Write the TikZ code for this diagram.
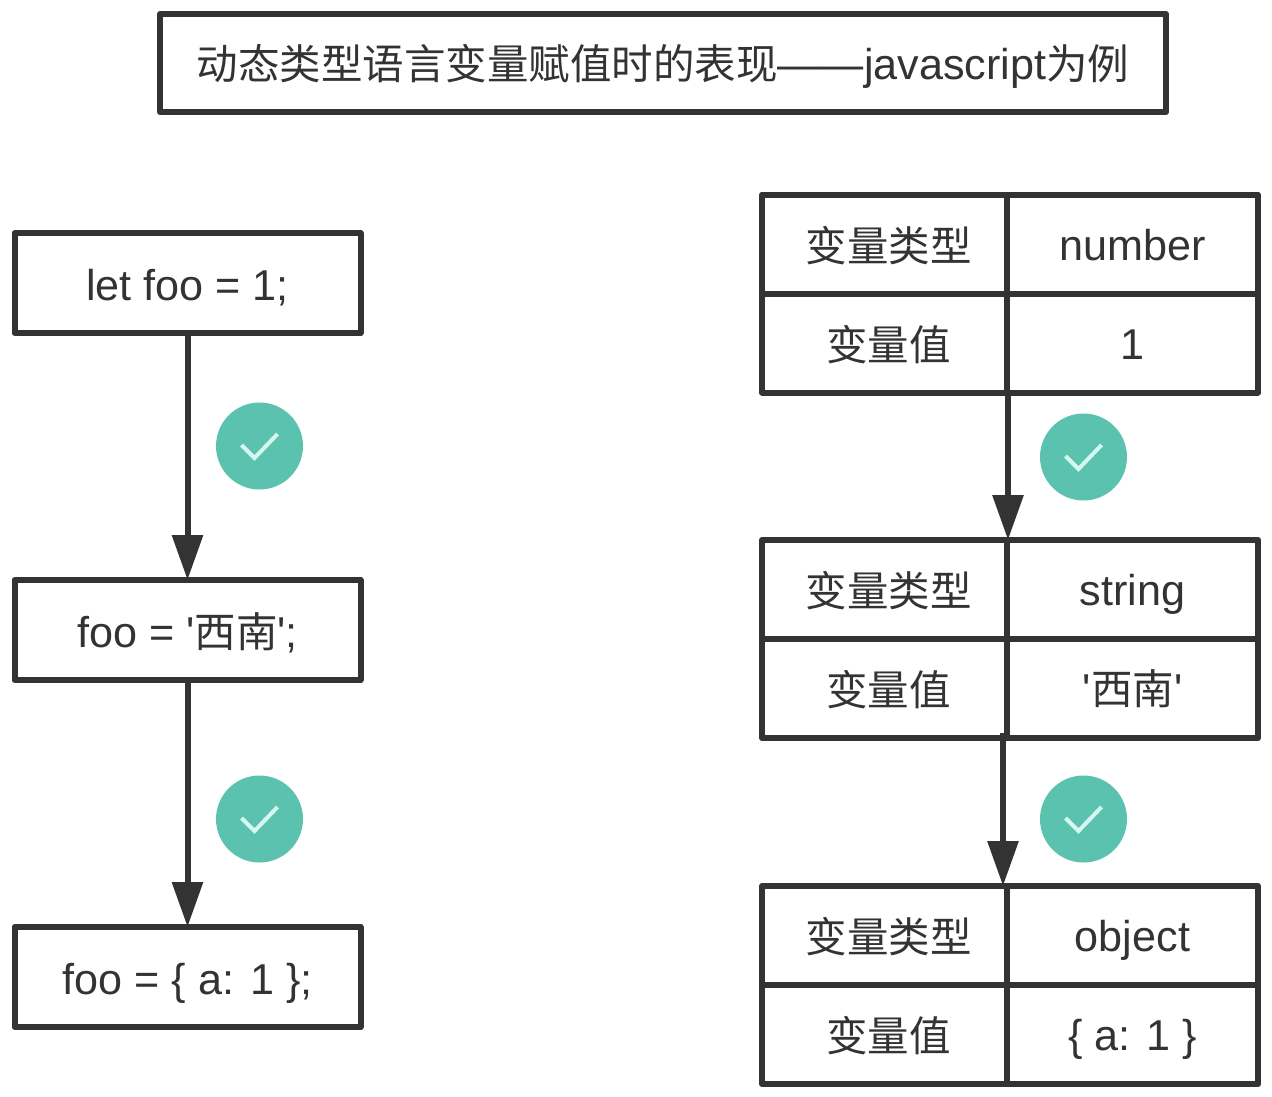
\documentclass[tikz,border=0pt]{standalone}
\usepackage{fontspec}
\setmainfont[Scale=1.04]{Liberation Sans}
\newfontfamily\cjk{Noto Sans CJK SC}
\usetikzlibrary{arrows.meta}
\definecolor{ink}{HTML}{333333}
\definecolor{okfill}{HTML}{5BC2AF}
\definecolor{oktick}{HTML}{D5F7EF}
\tikzset{
  base/.style={text height=#1*2pt,text depth=0pt},
  box/.style={draw=ink,line width=6pt,line join=round,outer sep=0pt,inner sep=0pt,
    text=ink,font=\fontsize{41.5}{45}\selectfont,anchor=north west,base=16},
  flowbox/.style={box,minimum width=346pt,minimum height=100pt,base=17.5},
  keycell/.style={box,minimum width=245pt,minimum height=99pt,base=17},
  valcell/.style={box,minimum width=251pt,minimum height=99pt,base=16},
  flow/.style={draw=ink,line width=6pt,-{Triangle[length=45pt,width=30pt]}},
  okcircle/.style={circle,fill=okfill,minimum size=87pt,inner sep=0pt},
  tick/.style={draw=oktick,line width=4pt}
}
\newcommand{\oksign}[2]{%
  \node[okcircle] (#1) at #2 {};
  \draw[tick] ([shift={(-18,-1)}]#1.center) -- ([shift={(-5,12)}]#1.center) -- ([shift={(18,-12)}]#1.center);
}
\newcommand{\xinan}{\textquotesingle{\cjk 西南}\textquotesingle}
\begin{document}
\begin{tikzpicture}[x=1pt,y=-1pt]
  \useasboundingbox (0,0) rectangle (1272,1096);
  % title
  \node[box,minimum width=1006pt,minimum height=98pt] (title) at (160,14)
    {{\cjk 动态类型语言变量赋值时的表现}——javascript{\cjk 为例}};
  % left column
  \node[flowbox] (let) at (14.5,233) {let foo = 1;};
  \node[flowbox] (str) at (14.5,580) {foo = \xinan;};
  \node[flowbox] (obj) at (14.5,927) {foo = \{ a: 1 \};};
  \draw[flow] (let) -- (str);
  \draw[flow] (str) -- (obj);
  % right column
  \foreach \name/\ypos/\kind/\val in {a/194.5/number/1,b/540/string/\xinan,c/886/object/\{ a: 1 \}} {
    \node[keycell] (\name type) at (762,\ypos) {\hspace{8pt}\cjk 变量类型};
    \node[valcell] (\name kind) at (1007,\ypos) {\kind};
    \node[keycell] (\name key) at (762,\ypos+99) {\hspace{8pt}\cjk 变量值};
    \node[valcell] (\name val) at (1007,\ypos+99) {\val};
  }
  \coordinate (aout) at (1008,394);
  \coordinate (bin) at (1008,540);
  \coordinate (bout) at (1003,733);
  \coordinate (cin) at (1003,886);
  \draw[flow] (aout) -- (bin);
  \draw[flow] (bout) -- (cin);
  % checks
  \oksign{ok1}{(259.5,446)}
  \oksign{ok2}{(259.5,819)}
  \oksign{ok3}{(1083.5,457)}
  \oksign{ok4}{(1083.5,819)}
\end{tikzpicture}
\end{document}
